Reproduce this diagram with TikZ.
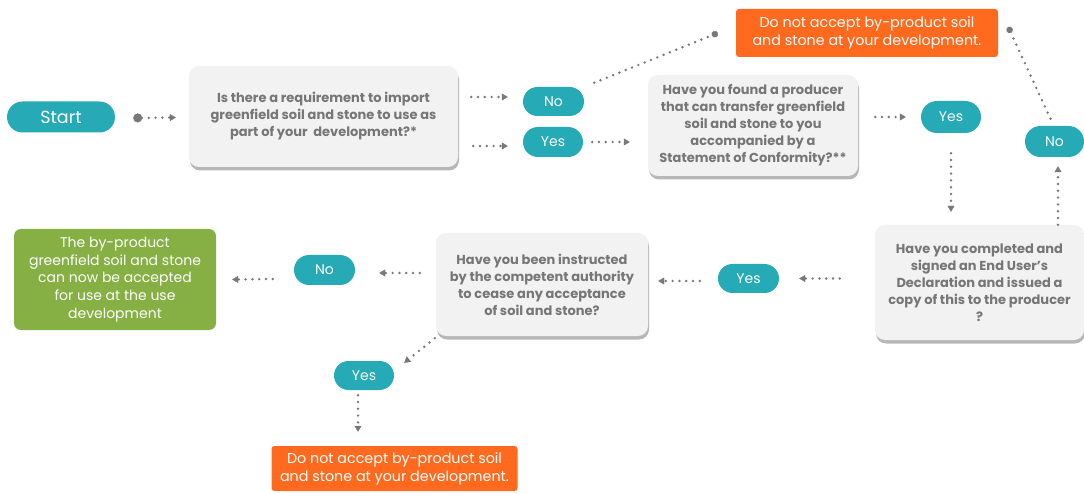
\documentclass[tikz,border=0pt]{standalone}
\usepackage{fontspec}
\setmainfont{Poppins}
\usetikzlibrary{arrows.meta,shadows,calc}
\definecolor{tealc}{RGB}{38,170,182}
\definecolor{orng}{RGB}{255,106,31}
\definecolor{grn}{RGB}{134,176,67}
\definecolor{qfill}{RGB}{242,242,242}
\definecolor{tgray}{RGB}{118,118,118}
\definecolor{lgray}{RGB}{120,120,120}
\begin{document}
\begin{tikzpicture}[x=1pt,y=-1pt,
  pill/.style={fill=tealc, text=white, rounded corners=14.5pt, inner sep=0pt,
    font=\fontsize{14}{16}\selectfont},
  qbox/.style={fill=qfill, rounded corners=10pt, text=tgray, align=center, inner sep=0pt,
    font=\bfseries\fontsize{13}{17}\selectfont,
    drop shadow={shadow xshift=1pt, shadow yshift=-3.5pt, opacity=0.4, fill=black!70}},
  obox/.style={fill=orng, rounded corners=3pt, text=white, align=center, inner sep=0pt,
    font=\fontsize{14.3}{18}\selectfont},
  gbox/.style={fill=grn, rounded corners=7pt, text=white, align=center, inner sep=0pt,
    font=\fontsize{14}{17.8}\selectfont},
  dotl/.style={draw=lgray, line width=2.7pt, line cap=round, dash pattern=on 0pt off 6.8pt},
  arr/.style={dotl, -{Triangle[width=7pt,length=6pt,line width=0.4pt]}},
  darr/.style={dotl, -{Circle[length=6.5pt,line width=0.4pt]}},
]
\useasboundingbox (0,0) rectangle (1084,494);

% nodes
\node[pill, minimum width=108pt, minimum height=31pt, rounded corners=15.5pt,
  font=\fontsize{17.5}{19}\selectfont] (start) at (61,117) {Start};
\node[qbox, minimum width=269pt, minimum height=101pt] (q1) at (323.5,116.5)
  {Is there a requirement to import\\greenfield soil and stone to use as\\part of your\ \ development?*};
\node[pill, minimum width=61pt, minimum height=29pt] (no1) at (553.5,101.5) {No};
\node[pill, minimum width=60pt, minimum height=30pt, rounded corners=15pt] (yes1) at (553,142) {Yes};
\node[obox, minimum width=262pt, minimum height=48pt] (o1) at (867,33)
  {Do not accept by-product soil\\and stone at your development.};
\node[qbox, minimum width=210pt, minimum height=101pt] (q2) at (753,125.5)
  {Have you found a producer\\that can transfer greenfield\\soil and stone to you\\accompanied by a\\Statement of Conformity?**};
\node[pill, minimum width=60pt, minimum height=32pt, rounded corners=16pt] (yes2) at (951,117) {Yes};
\node[pill, minimum width=59pt, minimum height=31pt, rounded corners=15.5pt] (no2) at (1054.5,141.5) {No};
\node[qbox, minimum width=209pt, minimum height=115pt] (q3) at (979.5,282.5)
  {Have you completed and\\signed an End User’s\\Declaration and issued a\\copy of this to the producer\\?};
\node[pill, minimum width=61pt, minimum height=29pt] (yes3) at (748.5,278.5) {Yes};
\node[qbox, minimum width=212pt, minimum height=103pt] (q4) at (542,284.5)
  {Have you been instructed\\by the competent authority\\to cease any acceptance\\of soil and stone?};
\node[pill, minimum width=61pt, minimum height=30pt, rounded corners=15pt] (no3) at (324.5,270) {No};
\node[gbox, minimum width=202pt, minimum height=101pt] (g) at (115,279.5)
  {The by-product\\greenfield soil and stone\\can now be accepted\\for use at the use\\development};
\node[pill, minimum width=60pt, minimum height=29pt] (yes4) at (364,375.5) {Yes};
\node[obox, minimum width=246pt, minimum height=45pt] (o2) at (394.5,468.5)
  {Do not accept by-product soil\\and stone at your development.};

% connectors
\draw[dotl, {Circle[length=9pt,line width=0.4pt]}-{Triangle[width=7pt,length=6pt,line width=0.4pt]}]
  ([shift={(18,1)}]start.east) -- ([shift={(-13,1)}]q1.west);
\draw[arr] ([shift={(13,-4.5)}]q1.east |- no1.west) -- ([xshift=-15pt,yshift=4.5pt]no1.west);
\draw[arr] ([shift={(15,4)}]q1.east |- yes1.west) -- ([shift={(-15,4)}]yes1.west);
\draw[darr] ([shift={(10,-4)}]no1.north east) -- ([shift={(-18,0)}]o1.west);
\draw[arr] ([xshift=9pt]yes1.east) -- ([xshift=-18pt]q2.west |- yes1.east);
\draw[arr] ([xshift=17pt]q2.east |- yes2.west) -- ([xshift=-15pt]yes2.west);
\draw[darr] ([shift={(-4,-7)}]no2.north) -- ([shift={(10,-6)}]o1.east);
\draw[arr] ([yshift=-20pt]yes2.south) -- ([yshift=13pt]yes2.south |- q3.north);
\draw[arr] ([xshift=3.5pt]no2.south |- q3.north) -- ([xshift=3.5pt,yshift=-9pt]no2.south);
\draw[arr] ([xshift=-35pt]q3.west |- yes3.east) -- ([xshift=20pt]yes3.east);
\draw[arr] ([shift={(-18,2.5)}]yes3.west) -- ([shift={(10,2.5)}]q4.east |- yes3.west);
\draw[arr] ([shift={(-16,-11.5)}]q4.west) -- ([shift={(24,3)}]no3.east);
\draw[arr] ([shift={(-21,9)}]no3.west) -- ([shift={(16,0)}]g.east);
\draw[arr] ([shift={(-1,2)}]q4.south west) -- ([shift={(10,2)}]yes4.north east);
\draw[arr] ([shift={(-6,5)}]yes4.south) -- ([shift={(-6,-14)}]yes4.south |- o2.north);
\end{tikzpicture}
\end{document}
